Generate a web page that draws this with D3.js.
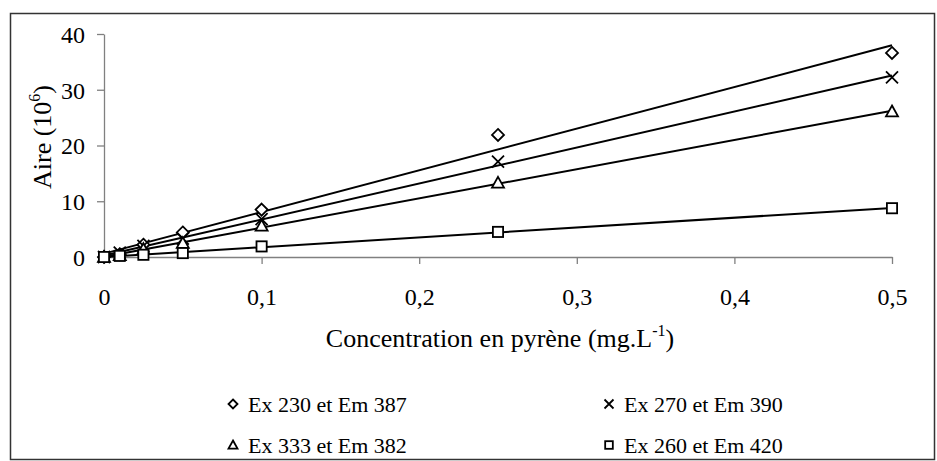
<!DOCTYPE html>
<html lang="fr">
<head>
  <meta charset="UTF-8">
  <title>Aire vs concentration en pyrène</title>
  <style>
    body { margin: 0; background: #fff; }
    svg text { font-family: "Times New Roman", Tinos, "Liberation Serif", "DejaVu Serif", serif; fill: #000; }
  </style>
</head>
<body>
  <script src="https://d3js.org/d3.v7.min.js"></script>
  <script>
    const width = 937;
    const height = 461;
    const serif = '"Times New Roman", Tinos, "Liberation Serif", "DejaVu Serif", serif';

    // data
    const concentrations = [0, 0.01, 0.025, 0.05, 0.1, 0.25, 0.5];
    const ex230em387 = [0, 0.5, 2.2, 4.4, 8.5, 21.9, 36.6];
    const ex270em390 = [0, 0.8, 2.0, 3.3, 6.8, 17.1, 32.2];
    const ex333em382 = [0, 0.3, 1.4, 2.5, 5.6, 13.3, 26.1];
    const ex260em420 = [0, 0.2, 0.4, 0.7, 1.9, 4.5, 8.75];
    const seriesNames = ['Ex 230 et Em 387', 'Ex 270 et Em 390', 'Ex 333 et Em 382', 'Ex 260 et Em 420'];
    const xTicks = [0, 0.1, 0.2, 0.3, 0.4, 0.5];
    const yTicks = [0, 10, 20, 30, 40];

    const series = [
      { name: seriesNames[0], values: ex230em387, symbol: 'diamond' },
      { name: seriesNames[1], values: ex270em390, symbol: 'cross' },
      { name: seriesNames[2], values: ex333em382, symbol: 'triangle' },
      { name: seriesNames[3], values: ex260em420, symbol: 'square' }
    ];

    const plot = { left: 104, right: 892, top: 34, bottom: 257 };

    const x = d3.scaleLinear().domain([0, 0.5]).range([plot.left, plot.right]);
    const y = d3.scaleLinear().domain([0, 40]).range([plot.bottom, plot.top]);
    const fmt = d => String(d).replace('.', ',');

    const svg = d3.select('body')
                  .append('svg')
                  .attr('width', width)
                  .attr('height', height)
                  .attr('font-family', serif);

    // outer frame
    svg.append('rect')
        .attr('x', 10.5)
        .attr('y', 13.5)
        .attr('width', 924)
        .attr('height', 446)
        .attr('fill', 'none')
        .attr('stroke', '#333')
        .attr('stroke-width', 1.5);

    // axes
    const xAxis = svg.append('g')
        .attr('transform', 'translate(0,' + plot.bottom + ')')
        .call(d3.axisBottom(x).tickValues(xTicks).tickFormat(fmt).tickSize(7).tickSizeOuter(0));
    const yAxis = svg.append('g')
        .attr('transform', 'translate(' + plot.left + ',0)')
        .call(d3.axisLeft(y).tickValues(yTicks).tickSize(7).tickSizeOuter(0));

    [xAxis, yAxis].forEach(g => {
      g.attr('font-family', serif);
      g.select('.domain').attr('stroke', '#808080').attr('stroke-width', 1.3);
      g.selectAll('.tick line').attr('stroke', '#808080').attr('stroke-width', 1.3);
      g.selectAll('.tick text')
        .attr('font-size', 24)
        .attr('fill', '#000');
    });
    xAxis.selectAll('.tick text').attr('dy', null).attr('y', 48);
    yAxis.selectAll('.tick text').attr('x', -19).attr('dy', '0.35em');

    // axis titles
    const xt = svg.append('text')
        .attr('x', 500)
        .attr('y', 347)
        .attr('text-anchor', 'middle')
        .attr('font-size', 26);
    xt.append('tspan').text('Concentration en pyrène (mg.L');
    xt.append('tspan').attr('font-size', 16).attr('dy', -11).text('-1');
    xt.append('tspan').attr('dy', 11).text(')');

    const yt = svg.append('text')
        .attr('transform', 'translate(51,137) rotate(-90)')
        .attr('text-anchor', 'middle')
        .attr('font-size', 26);
    yt.append('tspan').text('Aire (10');
    yt.append('tspan').attr('font-size', 16).attr('dy', -11).text('6');
    yt.append('tspan').attr('dy', 11).text(')');

    // linear trendlines
    series.forEach(s => {
      const pts = concentrations.map((c, i) => [c, s.values[i]]);
      const mx = d3.mean(pts, p => p[0]);
      const my = d3.mean(pts, p => p[1]);
      const slope = d3.sum(pts, p => (p[0] - mx) * (p[1] - my)) / d3.sum(pts, p => (p[0] - mx) * (p[0] - mx));
      const icpt = my - slope * mx;
      const ends = [0, 0.5].map(c => [c, icpt + slope * c]);
      svg.append('path')
          .datum(ends)
          .attr('d', d3.line().x(d => x(d[0])).y(d => y(d[1])))
          .attr('fill', 'none')
          .attr('stroke', '#000')
          .attr('stroke-width', 2);
    });

    const marker = (g, type, r) => {
      if (type === 'diamond') {
        g.append('path').attr('d', `M0,${-r}L${r},0L0,${r}L${-r},0Z`);
      } else if (type === 'square') {
        g.append('rect').attr('x', -r * 0.85).attr('y', -r * 0.85).attr('width', r * 1.7).attr('height', r * 1.7);
      } else if (type === 'triangle') {
        g.append('path').attr('d', `M0,${-r}L${r},${r * 0.8}L${-r},${r * 0.8}Z`);
      } else {
        g.append('path').attr('d', `M${-r},${-r}L${r},${r}M${-r},${r}L${r},${-r}`);
      }
      g.selectAll('*').attr('fill', '#fff').attr('stroke', '#000').attr('stroke-width', 1.8);
      if (type === 'cross') g.selectAll('*').attr('fill', 'none');
    };

    // data points
    series.forEach(s => {
      svg.append('g')
          .selectAll('g')
          .data(concentrations.map((c, i) => [c, s.values[i]]))
          .enter()
          .append('g')
          .attr('transform', d => 'translate(' + x(d[0]) + ',' + y(d[1]) + ')')
          .each(function () { marker(d3.select(this), s.symbol, 6); });
    });

    // legend
    const legendPos = [[233, 404], [609, 404], [233, 445], [609, 445]];
    series.forEach((s, k) => {
      const g = svg.append('g').attr('transform', 'translate(' + legendPos[k][0] + ',' + legendPos[k][1] + ')');
      marker(g.append('g'), s.symbol, 4.5);
      g.append('text')
          .attr('x', 15)
          .attr('dy', '0.35em')
          .attr('font-size', 22)
          .text(s.name);
    });
  </script>
</body>
</html>
